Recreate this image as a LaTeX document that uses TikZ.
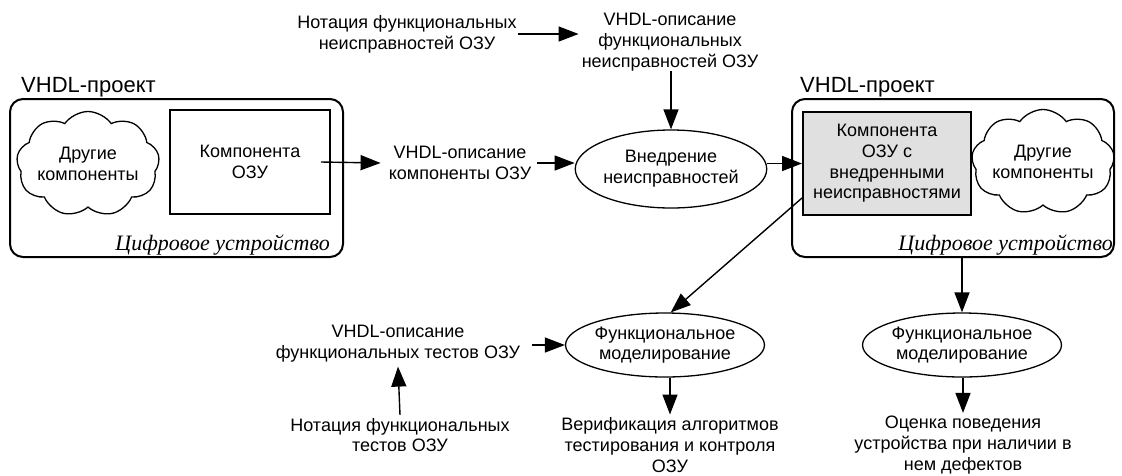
\documentclass[tikz,border=0pt]{standalone}
\usepackage{fontspec}
\setmainfont{Liberation Sans}
\newfontfamily\serifit{Liberation Serif}
\usetikzlibrary{arrows.meta,shapes.geometric,shapes.symbols}
\tikzset{
  lbl/.style={align=center,font=\fontsize{18}{20.7}\selectfont,inner sep=0pt},
  ttl/.style={font=\fontsize{22}{24}\selectfont,inner sep=0pt,anchor=base west},
  captext/.style={font=\serifit\itshape\fontsize{22}{24}\selectfont,inner sep=0pt,anchor=base east},
  arr/.style={-{Triangle[length=20pt,width=15pt]},line width=1.4pt},
  frame/.style={draw,rounded corners=13pt,line width=2pt,inner sep=0pt},
  box/.style={draw,line width=2pt,inner sep=0pt,align=center,font=\fontsize{18}{20.7}\selectfont},
  ell/.style={ellipse,draw,line width=1.3pt,inner sep=0pt,align=center,font=\fontsize{18}{20.7}\selectfont},
  cld/.style={cloud,cloud puffs=9,cloud puff arc=110,cloud ignores aspect,draw,line width=1.3pt,inner sep=0pt,align=center,font=\fontsize{18}{20.7}\selectfont}
}
\begin{document}
\begin{tikzpicture}[x=1pt,y=-1pt]
\useasboundingbox (0,0) rectangle (1122,475);
% left project
\node[ttl] (ttlL) at (21,92) {VHDL-проект};
\node[frame,minimum width=333pt,minimum height=158pt] (frL) at (176.5,178) {};
\node[cld,minimum width=141pt,minimum height=105pt] (cldL) at (88,164) {Другие\\компоненты};
\node[box,minimum width=160pt,minimum height=104pt] (ram) at (250,162) {Компонента\\ОЗУ};
\node[captext] (capL) at (330,250) {Цифровое устройство};
% right project
\node[ttl] (ttlR) at (800,92) {VHDL-проект};
\node[frame,minimum width=322pt,minimum height=158pt] (frR) at (953,178) {};
\node[box,fill=black!12,minimum width=168pt,minimum height=103pt] (ramf) at (887,163.5) {Компонента\\ОЗУ с\\внедренными\\неисправностями};
\node[cld,minimum width=138pt,minimum height=105pt] (cldR) at (1043,162) {Другие\\компоненты};
\node[captext] (capR) at (1113,250) {Цифровое устройство};
% texts
\node[lbl] (t1) at (407,34) {Нотация функциональных\\неисправностей ОЗУ};
\node[lbl] (t2) at (670,42) {VHDL-описание\\функциональных\\неисправностей ОЗУ};
\node[lbl] (t3) at (460,163) {VHDL-описание\\компоненты ОЗУ};
\node[ell,minimum width=180pt,minimum height=78pt] (inj) at (671,169) {Внедрение\\неисправностей};
\node[lbl] (t4) at (398,344) {VHDL-описание\\функциональных тестов ОЗУ};
\node[lbl] (t5) at (400,435) {Нотация функциональных\\тестов ОЗУ};
\node[ell,minimum width=164pt,minimum height=64pt] (sim1) at (665,345) {Функциональное\\моделирование};
\node[ell,minimum width=170pt,minimum height=64pt] (sim2) at (962,345) {Функциональное\\моделирование};
\node[lbl] (t6) at (670,445) {Верификация алгоритмов\\тестирования и контроля\\ОЗУ};
\node[lbl] (t7) at (963,445) {Оценка поведения\\устройства при наличии в\\нем дефектов};
% arrows
\draw[arr] ([xshift=1pt]t1.east) -- ([xshift=-3pt]t2.west |- t1.east);
\draw[arr] (t2.south -| inj.north) -- (inj.north);
\draw[arr] ([xshift=-10pt]ram.east) -- ([xshift=-8pt]t3.west);
\draw[arr] ([xshift=6pt]t3.east) -- (inj.west |- t3.east);
\draw[arr] (inj.east |- ramf.west) -- (ramf.west);
\draw[arr] ([yshift=18pt]ramf.south west) -- (sim1.80);
\draw[arr] ([xshift=12pt]t4.east |- sim1.west) -- (sim1.west);
\draw[arr] ([yshift=3pt]t5.north) -- ([yshift=-4pt]t4.south);
\draw[arr] (sim1.south -| t6.north) -- ([yshift=3pt]t6.north);
\draw[arr] (frR.south -| sim2.north) -- (sim2.north);
\draw[arr] (sim2.south -| t7.north) -- ([yshift=3pt]t7.north);
\end{tikzpicture}
\end{document}
